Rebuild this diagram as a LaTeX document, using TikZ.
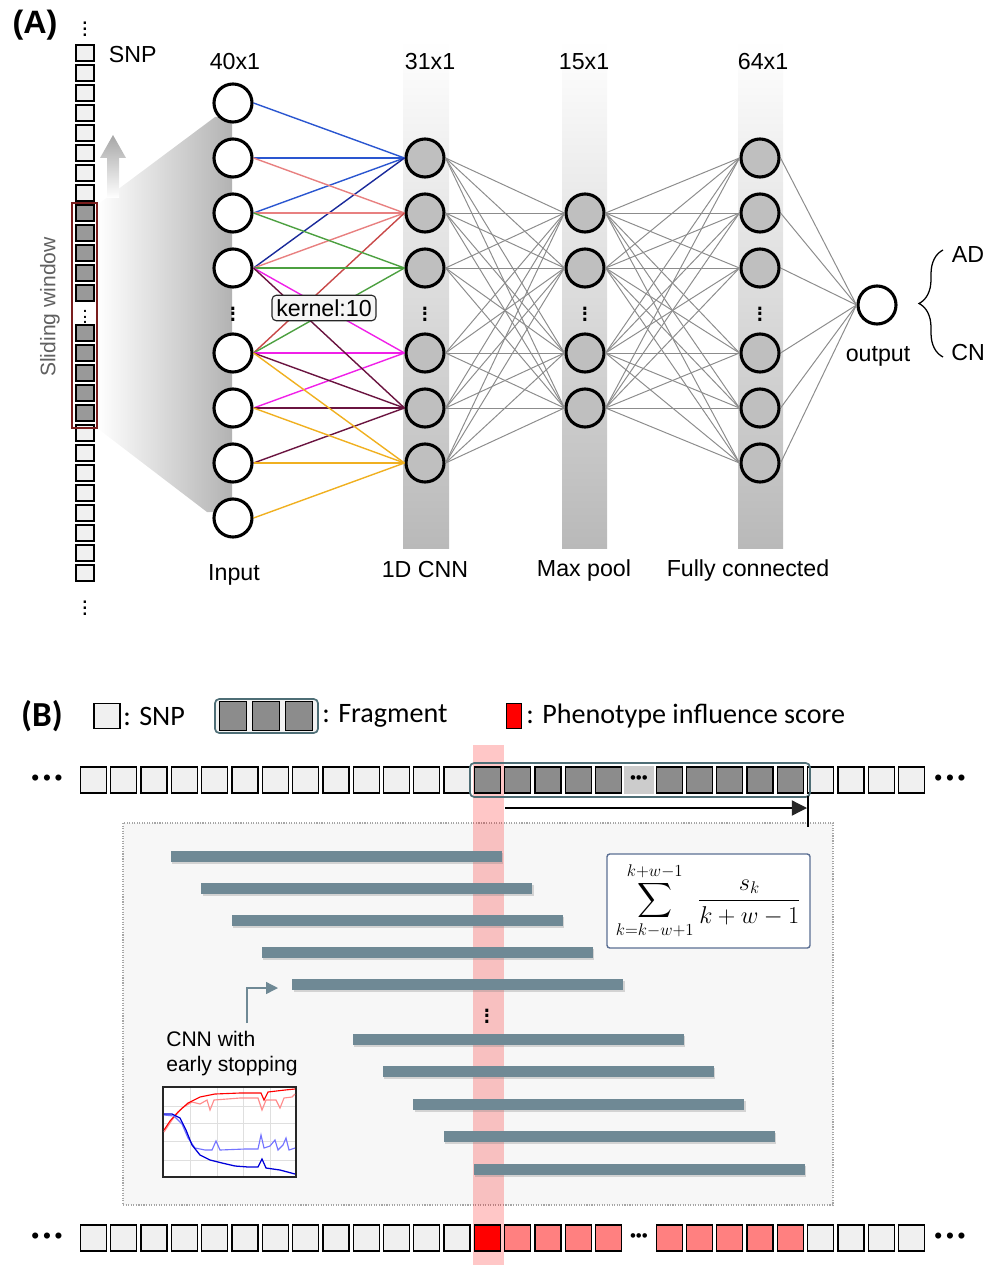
\documentclass[tikz,border=0pt]{standalone}
\usepackage{amsmath}
\usepackage{fontspec}
\setmainfont{Liberation Sans}
\newfontfamily\calibfont{Carlito}
\usetikzlibrary{arrows.meta, positioning, decorations.pathreplacing, shadows}

\definecolor{kblue}{HTML}{2A56D0}
\definecolor{knavy}{HTML}{1A2A9A}
\definecolor{ksalmon}{HTML}{E88080}
\definecolor{kred}{HTML}{C84848}
\definecolor{kgreen}{HTML}{4CA040}
\definecolor{kmagenta}{HTML}{F020E8}
\definecolor{kmaroon}{HTML}{6A1440}
\definecolor{kyellow}{HTML}{F0B020}
\definecolor{linkgray}{HTML}{8C8C8C}
\definecolor{snpfill}{HTML}{F0F0F0}
\definecolor{fragfill}{HTML}{8C8C8C}
\definecolor{fragline}{HTML}{4E6E76}
\definecolor{barslate}{HTML}{6F8995}
\definecolor{formline}{HTML}{5B6F93}
\definecolor{windowred}{HTML}{7A1E1E}
\definecolor{pinkscore}{HTML}{FF8080}

\begin{document}
\begin{tikzpicture}[x=0.025cm, y=-0.025cm,
  neuron/.style={circle, draw=black, line width=2.2pt, fill=white,
                 minimum size=0.95cm, inner sep=0pt},
  hidden/.style={neuron, fill=gray!50},
  lab/.style={font=\fontsize{16.5}{19}\selectfont},
  vdot/.style={font=\fontsize{22}{22}\selectfont, inner sep=0pt},
  coldot/.style={font=\fontsize{17}{17}\selectfont, inner sep=0pt},
  link/.style={linkgray, line width=0.7pt},
  kern/.style={line width=1pt},
  snpa/.style={draw=black, line width=0.8pt, fill=snpfill, minimum width=0.45cm,
               minimum height=0.4cm, inner sep=0pt},
  snpb/.style={draw=black, line width=0.9pt, fill=snpfill, minimum size=0.65cm,
               inner sep=0pt},
  band/.style={top color=white, middle color=gray!35, bottom color=gray!55},
  legtext/.style={font=\calibfont\fontsize{20}{24}\selectfont, anchor=west, inner sep=0pt}
]
\useasboundingbox (0,0) rectangle (1000,1273);

% ---------------- (A) ----------------
\node[font=\bfseries\fontsize{23}{26}\selectfont] (labA) at (35,25) {(A)};

% layer bands
\shade[band] (403,40) rectangle (449,548);
\shade[band] (562,40) rectangle (607,548);
\shade[band] (738,40) rectangle (783,548);

% window projection
\shade[left color=white, right color=gray!60] (97,205) -- (215,117) -- (232,117)
  -- (232,512) -- (207,512) -- (97,428) -- cycle;

% sliding arrow
\shade[top color=gray!70, bottom color=white] (113,135) -- (126,158) -- (119,158)
  -- (119,198) -- (107,198) -- (107,158) -- (100,158) -- cycle;

% SNP column
\node[coldot] (dotsTop) at (85,25) {$\vdots$};
\foreach \i in {0,...,7}
  \node[snpa] (sa\i) at (85,{53+20*\i}) {};
\foreach \i in {8,...,12}
  \node[snpa, fill=gray!80] (sa\i) at (85,{53+20*\i}) {};
\node[font=\fontsize{14}{14}\selectfont, inner sep=0pt] (dotsWin) at (85,313) {$\vdots$};
\foreach \i in {14,...,18}
  \node[snpa, fill=gray!80] (sa\i) at (85,{53+20*\i}) {};
\foreach \i in {19,...,26}
  \node[snpa] (sa\i) at (85,{53+20*\i}) {};
\node[coldot] (dotsBot) at (85,604) {$\vdots$};
\draw[windowred, line width=1pt] (72,203) rectangle (97,428);
\node[lab, anchor=west] (snpLab) at (104,55) {SNP};
\node[font=\fontsize{15}{18}\selectfont, text=gray!75!black, rotate=90] (winLab) at (50,307) {Sliding window};

% neurons
\foreach \i/\yy in {1/103,2/158,3/213,4/268,5/353,6/408,7/463,8/518}
  \node[neuron] (in\i) at (233,\yy) {};
\foreach \i/\yy in {1/158,2/213,3/268,4/353,5/408,6/463}
  \node[hidden] (c\i) at (425,\yy) {};
\foreach \i/\yy in {1/213,2/268,3/353,4/408}
  \node[hidden] (m\i) at (585,\yy) {};
\foreach \i/\yy in {1/158,2/213,3/268,4/353,5/408,6/463}
  \node[hidden] (f\i) at (760,\yy) {};
\node[neuron] (out) at (877,305) {};

\foreach \x/\n in {233/in,425/c,585/m,760/f}
  \node[vdot] (\n dots) at (\x,310) {$\vdots$};

% kernel connections
\foreach \a in {1,2,3} \draw[kern, kblue] (in\a.east) -- (c1.west);
\draw[kern, knavy] (in4.east) -- (c1.west);
\foreach \a in {2,3,4} \draw[kern, ksalmon] (in\a.east) -- (c2.west);
\draw[kern, kred] (in5.east) -- (c2.west);
\foreach \a in {3,4,5} \draw[kern, kgreen] (in\a.east) -- (c3.west);
\foreach \a in {4,5,6} \draw[kern, kmagenta] (in\a.east) -- (c4.west);
\foreach \a in {4,5,6,7} \draw[kern, kmaroon] (in\a.east) -- (c5.west);
\foreach \a in {5,6,7,8} \draw[kern, kyellow] (in\a.east) -- (c6.west);

% dense connections
\foreach \a in {1,...,6}
  \foreach \b in {1,...,4}
    \draw[link] (c\a.east) -- (m\b.west);
\foreach \a in {1,...,4}
  \foreach \b in {1,...,6}
    \draw[link] (m\a.east) -- (f\b.west);
\foreach \a in {1,...,6}
  \draw[link] (f\a.east) -- (out.west);

\node[lab, draw=gray!30!black, fill=gray!8, rounded corners=3pt, line width=0.8pt,
      inner sep=3pt] (kernel) at (324,308) {kernel:10};

% layer labels
\node[lab] (sz1) at (235,62) {40x1};
\node[lab] (sz2) at (430,62) {31x1};
\node[lab] (sz3) at (584,62) {15x1};
\node[lab] (sz4) at (763,62) {64x1};
\node[lab] (inLab) at (234,575) {Input};
\node[lab] (cnnLab) at (425,570) {1D CNN};
\node[lab] (poolLab) at (584,570) {Max pool};
\node[lab] (fcLab) at (748,570) {Fully connected};
\node[lab] (outLab) at (878,356) {output};

\draw[decorate, decoration={brace, amplitude=0.6cm}, line width=0.9pt] (943,357) -- (943,250);
\node[lab] (adLab) at (968,255) {AD};
\node[lab] (cnLab) at (968,353) {CN};

% ---------------- (B) ----------------
\node[font=\calibfont\bfseries\fontsize{25}{28}\selectfont] (labB) at (42,716) {(B)};
\node[snpb, minimum width=0.65cm, minimum height=0.62cm] (legSnp) at (107,716) {};
\node[legtext] (legSnpT) at (123,716) {: SNP};
\draw[fragline, fill=gray!10, line width=1.2pt, rounded corners=3pt] (215,699) rectangle (318,733);
\foreach \i in {0,1,2}
  \node[snpb, fill=fragfill, minimum width=0.68cm, minimum height=0.72cm] (legFr\i) at ({233+33*\i},716) {};
\node[legtext] (legFrT) at (322,716) {: Fragment};
\node[draw=black, fill=red, line width=0.8pt, minimum width=0.38cm, minimum height=0.64cm,
      inner sep=0pt] (legRed) at (514,716) {};
\node[legtext] (legRedT) at (526,716) {: Phenotype influence score};

% scanning area
\draw[gray!70, densely dotted, fill=gray!6, line width=0.8pt] (123,823) rectangle (833,1205);
\fill[red, opacity=0.22] (473,745) rectangle (504,1265);

% top row
\foreach \i in {0,...,12}
  \node[snpb] (t\i) at ({93.5+30.3*\i},780) {};
\foreach \i in {24,...,27}
  \node[snpb] (t\i) at ({93.5+30.3*\i},780) {};
\foreach \i in {13,...,17}
  \node[snpb, fill=fragfill] (t\i) at ({93.5+30.3*\i},780) {};
\foreach \i in {19,...,23}
  \node[snpb, fill=fragfill] (t\i) at ({93.5+30.3*\i},780) {};
\node[fill=gray!40, minimum width=0.75cm, minimum height=0.72cm, inner sep=0pt,
      font=\fontsize{12}{12}\selectfont] (t18) at ({93.5+30.3*18},780) {\textbullet\textbullet\textbullet};
\draw[fragline, line width=1.2pt, rounded corners=3pt] (470,763) rectangle (810,797);
\node[font=\fontsize{16}{16}\selectfont] (tDotsL) at (47,780) {\textbullet\,\textbullet\,\textbullet};
\node[font=\fontsize{16}{16}\selectfont] (tDotsR) at (950,780) {\textbullet\,\textbullet\,\textbullet};

% sliding direction
\coordinate (arrS) at (505,808);
\coordinate (arrE) at (807,808);
\draw[line width=0.9pt, -{Triangle[length=0.38cm, width=0.38cm, color=gray!30!black]}] (arrS) -- (arrE);
\draw[line width=1pt] (808,796) -- (808,827);

% fragments
\foreach \s/\yy in {3/856,4/888,5/920,6/952,7/984,9/1039,10/1071,11/1104,12/1136,13/1169}
  \fill[barslate, drop shadow={shadow xshift=1pt, shadow yshift=-1.5pt, opacity=0.3}]
    ({80+30.3*\s},{\yy-5.5}) rectangle ({80+30.3*\s+331},{\yy+5.5});
\node[vdot] (barDots) at (487,1012) {$\vdots$};

\node[draw=formline, line width=1pt, rounded corners=2pt, fill=white, minimum width=5.075cm,
      minimum height=2.35cm, font=\fontsize{17.5}{20}\selectfont] (formula) at (708.5,901)
  {$\displaystyle\sum_{k=k-w+1}^{k+w-1}\frac{s_k}{k+w-1}$};

% early stopping
\coordinate (elbS) at (247,1023);
\coordinate (elbE) at (278,988);
\draw[barslate, line width=1pt, -{Triangle[length=0.3cm, width=0.3cm]}] (elbS) |- (elbE);
\node[font=\fontsize{15}{18}\selectfont, align=left, anchor=north west, inner sep=0pt]
  (cnnES) at (166,1031) {CNN with\\early stopping};

\draw[gray!30!black, fill=white, line width=1pt] (163,1087) rectangle (296,1177);
\foreach \gx in {190,217,243,270}
  \draw[gray!25, line width=0.5pt] (\gx,1088) -- (\gx,1176);
\foreach \gy in {1106,1123,1141,1160}
  \draw[gray!25, line width=0.5pt] (164,\gy) -- (295,\gy);
\draw[red!45, line width=0.8pt] plot coordinates {(164,1132) (172,1120) (182,1108) (192,1102)
  (200,1104) (207,1100) (210,1110) (214,1100) (240,1098) (258,1098) (262,1110) (266,1100)
  (276,1100) (280,1108) (284,1098) (292,1097) (295,1094)};
\draw[red, line width=0.8pt] plot coordinates {(164,1130) (170,1121) (178,1112) (188,1103)
  (200,1097) (215,1094) (240,1093) (261,1093) (264,1100) (268,1092) (285,1090) (295,1089)};
\draw[blue!55, line width=0.8pt] plot coordinates {(164,1115) (174,1116) (182,1124) (188,1138)
  (195,1148) (205,1150) (212,1150) (216,1141) (220,1150) (245,1149) (258,1149) (261,1135)
  (264,1148) (270,1146) (275,1140) (278,1150) (283,1145) (286,1138) (289,1150) (295,1148)};
\draw[blue!85!black, line width=0.9pt] plot coordinates {(164,1114) (172,1114) (180,1118)
  (186,1130) (192,1145) (200,1155) (210,1160) (222,1163) (235,1166) (248,1167) (258,1167)
  (262,1159) (266,1168) (280,1170) (295,1174)};

% bottom row
\foreach \i in {0,...,12}
  \node[snpb] (b\i) at ({93.5+30.3*\i},1238) {};
\foreach \i in {24,...,27}
  \node[snpb] (b\i) at ({93.5+30.3*\i},1238) {};
\node[snpb, fill=red] (b13) at ({93.5+30.3*13},1238) {};
\foreach \i in {14,...,17}
  \node[snpb, fill=pinkscore] (b\i) at ({93.5+30.3*\i},1238) {};
\foreach \i in {19,...,23}
  \node[snpb, fill=pinkscore] (b\i) at ({93.5+30.3*\i},1238) {};
\node[font=\fontsize{12}{12}\selectfont, inner sep=0pt] (b18) at ({93.5+30.3*18},1238) {\textbullet\textbullet\textbullet};
\node[font=\fontsize{16}{16}\selectfont] (bDotsL) at (47,1238) {\textbullet\,\textbullet\,\textbullet};
\node[font=\fontsize{16}{16}\selectfont] (bDotsR) at (950,1238) {\textbullet\,\textbullet\,\textbullet};
\end{tikzpicture}
\end{document}
